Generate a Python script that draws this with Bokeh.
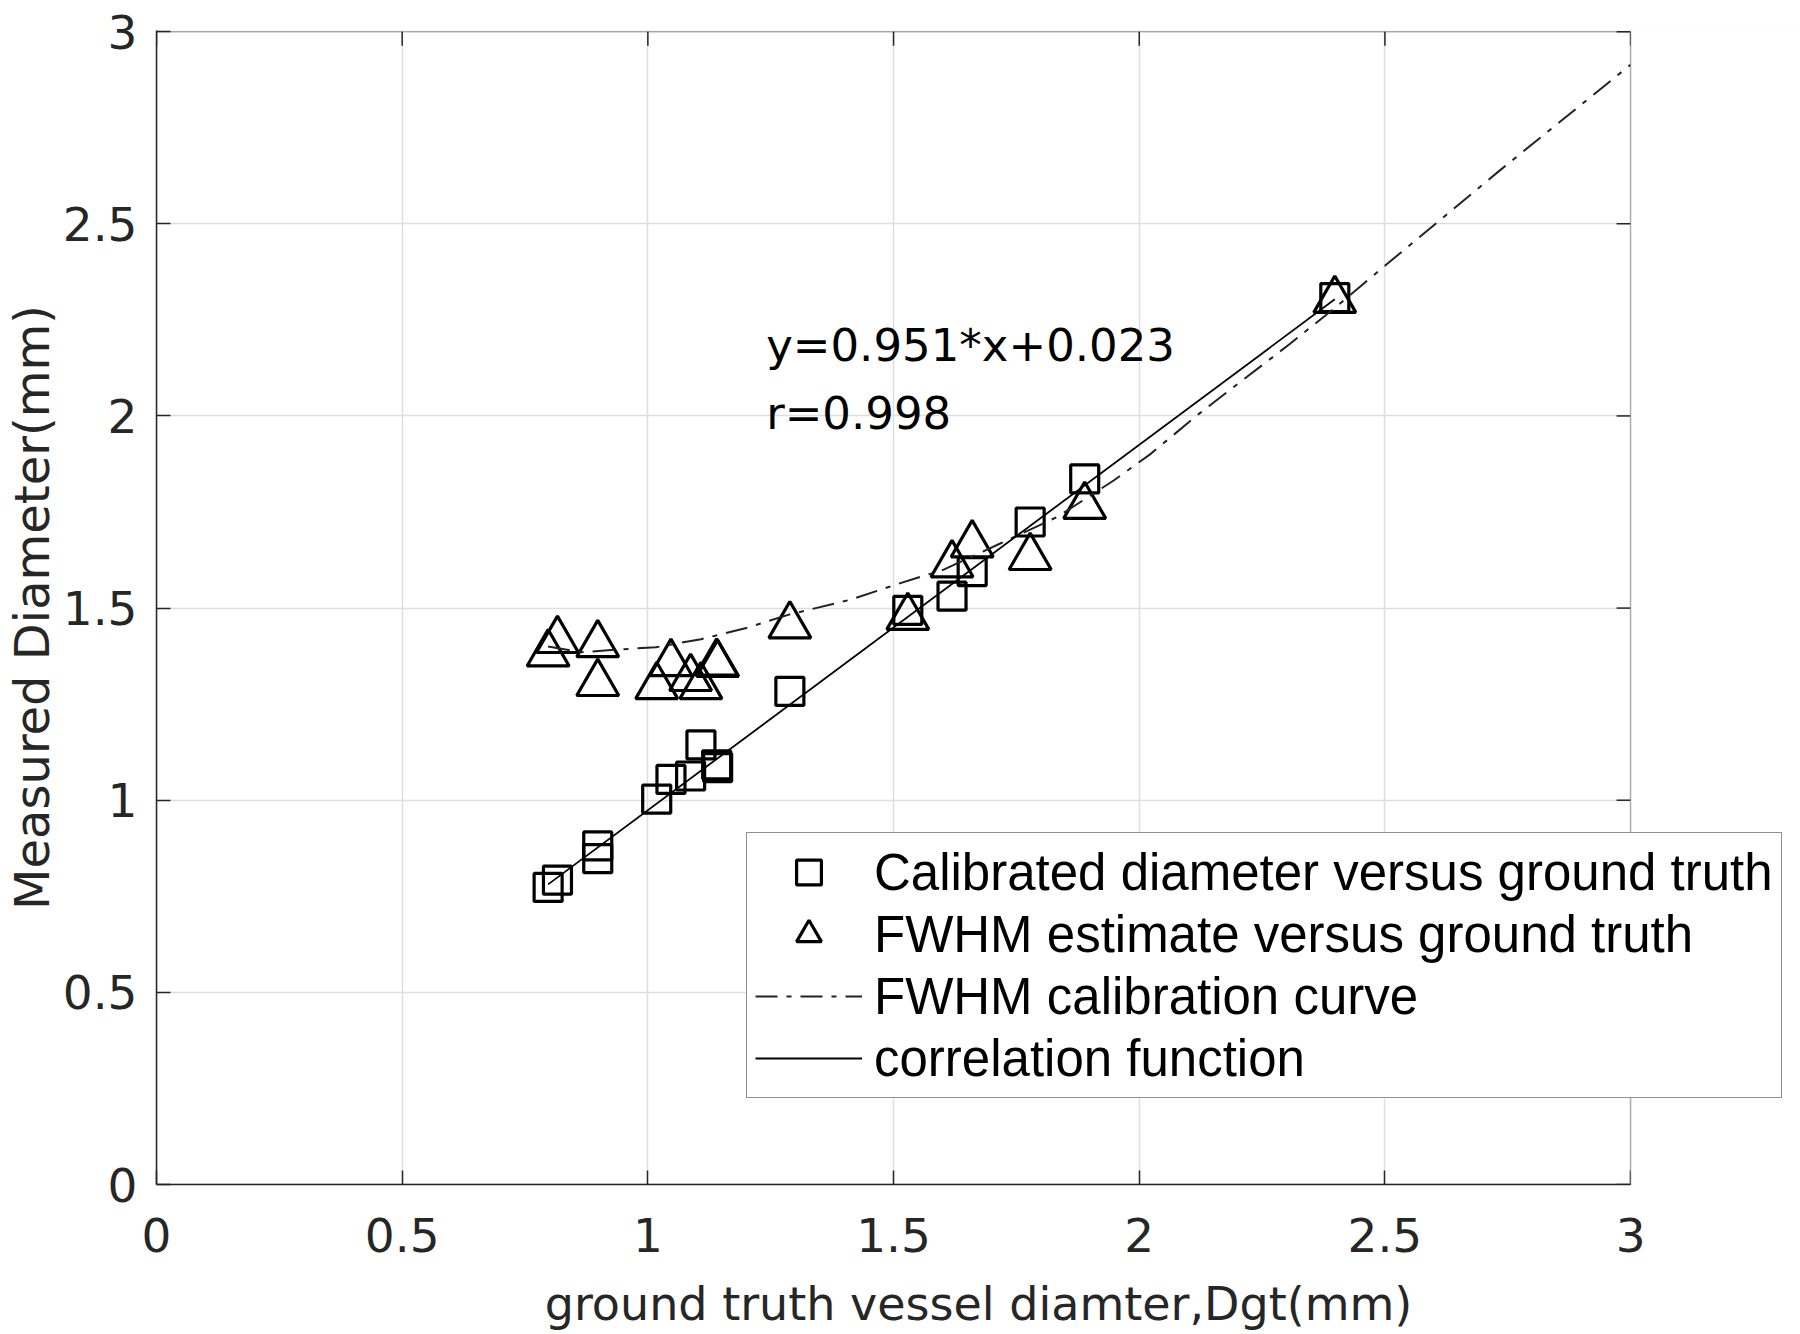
import math
from bokeh.plotting import figure
from bokeh.models import Range1d, FixedTicker, Legend, LegendItem, Label, BoxAnnotation
from bokeh.embed import file_html
from bokeh.resources import INLINE

# ---------------- data ----------------
ground_truth = [0.797, 0.816, 0.898, 0.898, 1.018, 1.047, 1.087, 1.108, 1.140, 1.142,
                1.289, 1.529, 1.619, 1.660, 1.778, 1.889, 2.398]
calibrated = [0.773, 0.792, 0.881, 0.848, 1.003, 1.054, 1.063, 1.144, 1.092, 1.085,
              1.283, 1.494, 1.531, 1.595, 1.724, 1.836, 2.308]
fwhm = [1.381, 1.416, 1.405, 1.304, 1.296, 1.356, 1.317, 1.296, 1.357, 1.354,
        1.454, 1.476, 1.613, 1.665, 1.632, 1.765, 2.301]
curve_x = [0.797, 0.864, 0.925, 1.016, 1.108, 1.203, 1.287, 1.413, 1.514, 1.602,
           1.717, 1.833, 1.948, 2.022, 2.124, 2.307, 2.395, 2.503, 2.734, 3.0]
curve_y = [1.400, 1.385, 1.391, 1.398, 1.419, 1.449, 1.483, 1.522, 1.565, 1.600,
           1.668, 1.737, 1.832, 1.900, 2.008, 2.188, 2.278, 2.394, 2.639, 2.914]
slope = 0.951
intercept = 0.023
r_value = 0.998
fit_x = [min(ground_truth), max(ground_truth)]
fit_y = [slope * v + intercept for v in fit_x]

x_ticks = [0, 0.5, 1, 1.5, 2, 2.5, 3]
x_tick_labels = ["0", "0.5", "1", "1.5", "2", "2.5", "3"]
y_ticks = [0, 0.5, 1, 1.5, 2, 2.5, 3]
y_tick_labels = ["0", "0.5", "1", "1.5", "2", "2.5", "3"]
x_label = "ground truth vessel diamter,Dgt(mm)"
y_label = "Measured Diameter(mm)"
legend_labels = ["Calibrated diameter versus ground truth",
                 "FWHM estimate versus ground truth",
                 "FWHM calibration curve",
                 "correlation function"]

# ---------------- layout constants ----------------
AX = "#262626"
FONT = "DejaVu Sans"
W, H = 1800, 1334
B_LEFT, B_RIGHT, B_TOP, B_BOTTOM = 155, 0, 30, 150
X_MAX, Y_MAX = 3.0, 3.0
PX_PER_X = 1475 / 3.0                     # axes box is 1475 px wide in the reference
frame_w = W - B_LEFT - B_RIGHT
x_end = frame_w / PX_PER_X                # frame continues right of x=3 to hold the legend
y_end = 3.003
frame_h = H - B_TOP - B_BOTTOM
PX_PER_Y = frame_h / y_end
TICK = 14

p = figure(width=W, height=H, x_range=Range1d(0, x_end), y_range=Range1d(0, y_end),
           output_backend="svg", toolbar_location=None,
           min_border_left=B_LEFT, min_border_right=B_RIGHT,
           min_border_top=B_TOP, min_border_bottom=B_BOTTOM,
           background_fill_color="white", border_fill_color="white")
p.outline_line_color = None


def style_axis(ax, ticks, labels):
    ax.ticker = FixedTicker(ticks=ticks)
    ax.major_label_overrides = dict(zip(ticks, labels))
    ax.major_tick_in = TICK
    ax.major_tick_out = 0
    ax.minor_tick_in = 0
    ax.minor_tick_out = 0
    ax.major_tick_line_color = AX
    ax.major_tick_line_width = 1.5
    ax.axis_line_color = AX
    ax.axis_line_width = 1.5
    ax.major_label_text_font = FONT
    ax.major_label_text_color = AX
    ax.major_label_text_font_size = "47px"
    ax.axis_label_text_font = FONT
    ax.axis_label_text_font_style = "normal"
    ax.axis_label_text_color = AX
    ax.axis_label_text_line_height = 1.0
    ax.major_label_text_line_height = 1.0


style_axis(p.xaxis[0], x_ticks, x_tick_labels)
style_axis(p.yaxis[0], y_ticks, y_tick_labels)
p.xaxis[0].bounds = (0, X_MAX)
p.yaxis[0].bounds = (0, y_end)
p.xaxis[0].major_label_standoff = 33
p.yaxis[0].major_label_standoff = 19
p.xaxis[0].axis_label = x_label
p.yaxis[0].axis_label = y_label
p.xaxis[0].axis_label_text_font_size = "46px"
p.yaxis[0].axis_label_text_font_size = "48px"
p.xaxis[0].axis_label_standoff = 22
p.yaxis[0].axis_label_standoff = 0

p.xgrid.ticker = FixedTicker(ticks=x_ticks)
p.ygrid.ticker = FixedTicker(ticks=y_ticks)
p.xgrid.grid_line_color = "#dedede"
p.ygrid.grid_line_color = "#dedede"
p.xgrid.grid_line_width = 1.5
p.ygrid.grid_line_width = 1.5

# ---------------- glyphs ----------------
sq = p.scatter(ground_truth, calibrated, marker="square", size=28,
               fill_color=None, line_color="black", line_width=3.2)
tri = p.scatter(ground_truth, fwhm, marker="triangle", size=42,
                fill_color=None, line_color="black", line_width=3.2)
curve = p.line(curve_x, curve_y, line_color="#222222", line_width=2, line_dash="22 9 5 9")
fit = p.line(fit_x, fit_y, line_color="black", line_width=1.8)

# inward ticks on the top and right edges of the axes box
top_tick_len = TICK / PX_PER_Y
right_tick_len = TICK / PX_PER_X
p.segment(x0=x_ticks, y0=[Y_MAX] * len(x_ticks), x1=x_ticks,
          y1=[Y_MAX - top_tick_len] * len(x_ticks), line_color=AX, line_width=1.5)
p.segment(x0=[X_MAX] * len(y_ticks), y0=y_ticks, x1=[X_MAX - right_tick_len] * len(y_ticks),
          y1=y_ticks, line_color=AX, line_width=1.5)

# blank area right of the axes box (legend overhangs it), then the box outline
p.add_layout(BoxAnnotation(left=X_MAX, fill_color="white", fill_alpha=1.0, line_color=None))
p.add_layout(BoxAnnotation(left=0, right=X_MAX, bottom=0, top=Y_MAX, fill_alpha=0.0,
                           fill_color=None, line_color=AX, line_width=1.5))

legend = Legend(items=[LegendItem(label=legend_labels[0], renderers=[sq]),
                       LegendItem(label=legend_labels[1], renderers=[tri]),
                       LegendItem(label=legend_labels[2], renderers=[curve]),
                       LegendItem(label=legend_labels[3], renderers=[fit])],
                location=(590, 86), padding=8, margin=0, spacing=0,
                glyph_width=107, glyph_height=62, label_height=62, label_standoff=12,
                label_text_font="Liberation Sans", label_text_font_size="51px",
                label_text_color="black",
                border_line_color=AX, border_line_width=1.5,
                background_fill_color="white", background_fill_alpha=1.0)
p.add_layout(legend)

# ---------------- texts ----------------
p.add_layout(Label(x=1.2407, y=2.184, text=f"y={slope}*x+{intercept}",
                   text_font=FONT, text_font_size="45px", text_color="black",
                   text_baseline="alphabetic", text_align="left"))
p.add_layout(Label(x=1.2407, y=2.007, text=f"r={r_value}",
                   text_font=FONT, text_font_size="45px", text_color="black",
                   text_baseline="alphabetic", text_align="left"))

open("out.html", "w").write(file_html(p, INLINE))
